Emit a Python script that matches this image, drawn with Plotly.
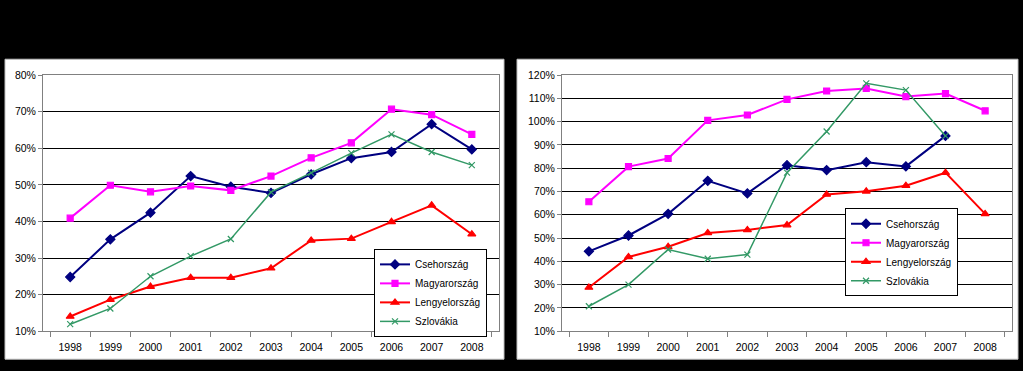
import plotly.graph_objects as go

years = ["1998", "1999", "2000", "2001", "2002", "2003", "2004", "2005", "2006", "2007", "2008"]
series_names = ["Csehország", "Magyarország", "Lengyelország", "Szlovákia"]

# Left panel (%)
left_cseh = [24.8, 35.1, 42.4, 52.4, 49.5, 47.8, 52.9, 57.3, 59.0, 66.6, 59.7]
left_magyar = [40.9, 49.9, 48.1, 49.7, 48.5, 52.4, 57.4, 61.5, 70.7, 69.2, 63.8]
left_lengyel = [14.0, 18.6, 22.2, 24.6, 24.6, 27.2, 34.8, 35.3, 39.9, 44.4, 36.5]
left_szlovak = [11.9, 16.2, 25.0, 30.5, 35.2, 48.0, 53.3, 58.7, 63.8, 59.0, 55.4]

# Right panel (%)
right_cseh = [44.3, 51.1, 60.4, 74.6, 69.2, 81.3, 79.2, 82.6, 80.8, 93.9, None]
right_magyar = [65.6, 80.7, 84.2, 100.6, 102.9, 109.6, 113.2, 114.3, 110.8, 112.1, 104.7]
right_lengyel = [28.75, 41.9, 46.25, 52.2, 53.5, 55.6, 68.75, 70.1, 72.5, 78.1, 60.4]
right_szlovak = [20.7, 30.0, 45.1, 41.1, 42.9, 78.1, 95.8, 116.5, 113.6, 93.9, None]

colors = ["#000080", "#FF00FF", "#FF0000", "#339966"]
symbols = ["diamond", "square", "triangle-up", "x-thin-open"]
msizes = [7, 6, 7, 6]

W, H = 1023, 371
def fx(px):
    return px / W
def fy(py):
    return (H - py) / H

fig = go.Figure()

panels = [
    (("x", "y"), "legend", [left_cseh, left_magyar, left_lengyel, left_szlovak]),
    (("x2", "y2"), "legend2", [right_cseh, right_magyar, right_lengyel, right_szlovak]),
]
for (xa, ya), leg, data in panels:
    for name, vals, c, s, ms in zip(series_names, data, colors, symbols, msizes):
        fig.add_trace(go.Scatter(
            x=years, y=vals, name=name, mode="lines+markers",
            xaxis=xa, yaxis=ya, legend=leg,
            line=dict(color=c, width=2 if s != "x-thin-open" else 1.5),
            marker=dict(symbol=s, size=ms, color=c,
                        line=dict(color=c, width=1.2)),
            connectgaps=False,
        ))

font = dict(family="Liberation Sans, Arial, sans-serif", size=10.5, color="#000000")
legfont = dict(family="Liberation Sans, Arial, sans-serif", size=10, color="#000000")

xcommon = dict(type="category", showgrid=False, ticks="outside", tickson="boundaries",
               ticklen=5, tickcolor="#808080", showline=True, linecolor="#808080",
               linewidth=1, mirror=True, tickfont=font, zeroline=False, fixedrange=True,
               ticklabelstandoff=6)
ycommon = dict(showgrid=True, gridcolor="#000000", gridwidth=1, ticks="outside",
               ticklen=4, tickcolor="#808080", showline=True, linecolor="#808080",
               linewidth=1, mirror=True, tickfont=font, ticksuffix="%", dtick=10,
               zeroline=False, fixedrange=True)

fig.update_layout(
    width=W, height=H,
    margin=dict(l=0, r=0, t=0, b=0),
    paper_bgcolor="#000000",
    plot_bgcolor="#FFFFFF",
    font=font,
    xaxis=dict(xcommon, domain=[fx(43), fx(499)], anchor="y"),
    yaxis=dict(ycommon, domain=[fy(336), fy(71.5)], range=[10, 80], anchor="x"),
    xaxis2=dict(xcommon, domain=[fx(562), fx(1012)], anchor="y2"),
    yaxis2=dict(ycommon, domain=[fy(336), fy(71.5)], range=[10, 120], anchor="x2"),
    legend=dict(x=fx(374), y=fy(251), xanchor="left", yanchor="top",
                bgcolor="#FFFFFF", bordercolor="#000000", borderwidth=1,
                font=legfont, itemwidth=30, tracegroupgap=0),
    legend2=dict(x=fx(845), y=fy(209), xanchor="left", yanchor="top",
                 bgcolor="#FFFFFF", bordercolor="#000000", borderwidth=1,
                 font=legfont, itemwidth=30, tracegroupgap=0),
    shapes=[
        dict(type="rect", xref="paper", yref="paper", x0=fx(5), x1=fx(504), y0=fy(365), y1=fy(55),
             fillcolor="#FFFFFF", line=dict(color="#C0C0C0", width=1), layer="below"),
        dict(type="rect", xref="paper", yref="paper", x0=fx(517), x1=fx(1018), y0=fy(365), y1=fy(55),
             fillcolor="#FFFFFF", line=dict(color="#C0C0C0", width=1), layer="below"),
    ],
)

fig.write_html("out.html", config={"displayModeBar": False},
               post_script="document.body.style.margin='0px';document.body.style.overflow='hidden';")
